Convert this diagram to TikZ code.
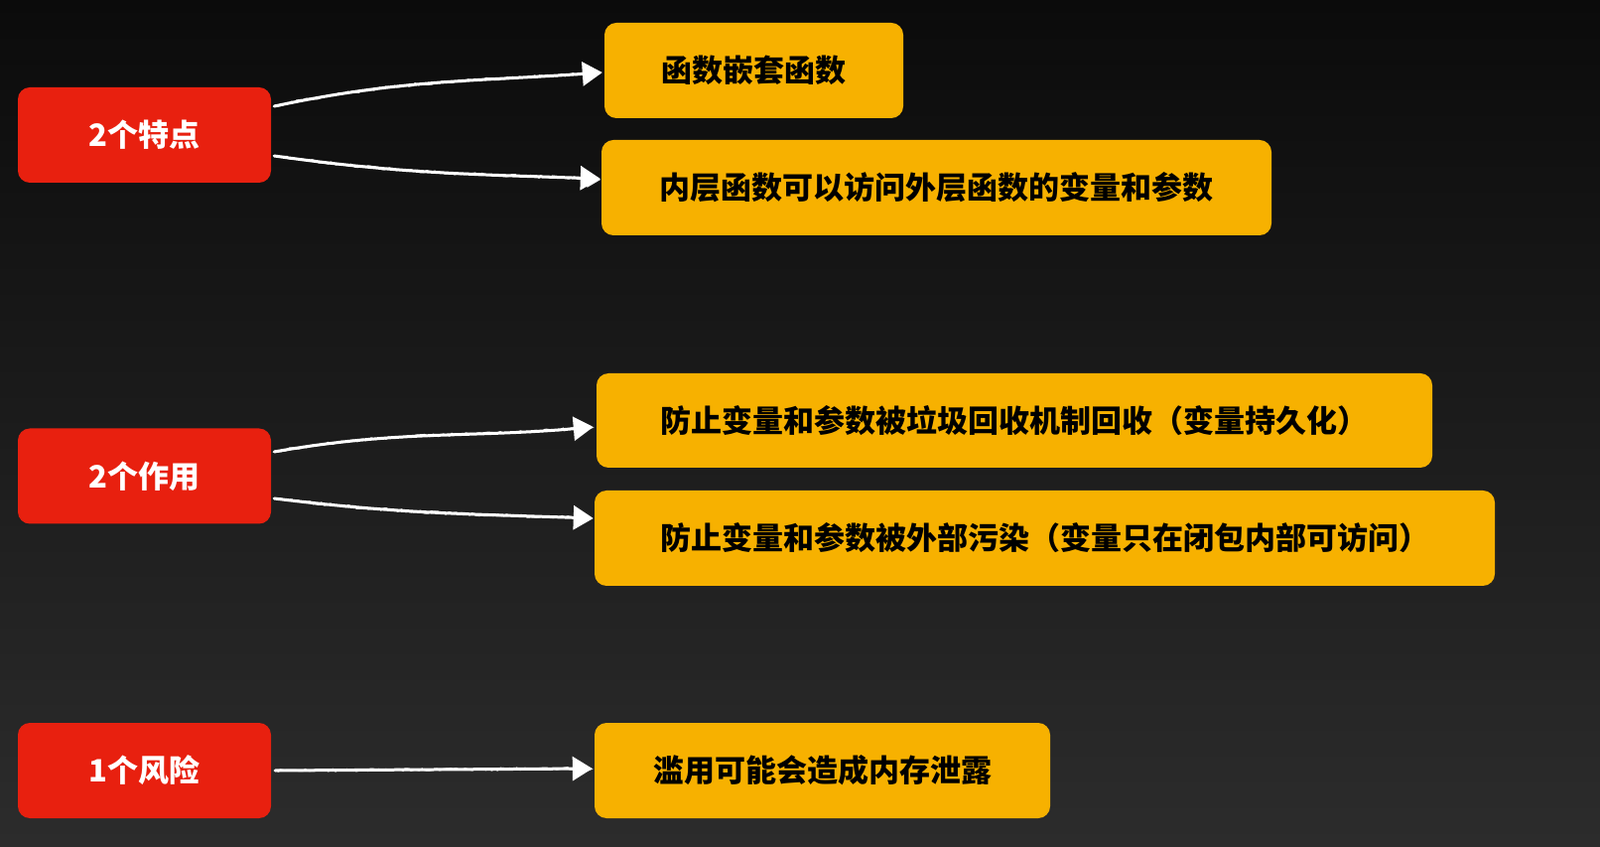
\documentclass[tikz,border=0pt]{standalone}
\usepackage{fontspec}
\newfontfamily\cjk{Noto Sans CJK SC}
\usetikzlibrary{arrows.meta,decorations.pathmorphing}
\definecolor{bgtop}{HTML}{0B0B0B}
\definecolor{bgbot}{HTML}{2C2C2C}
\definecolor{redbox}{HTML}{E8200F}
\definecolor{orbox}{HTML}{F7B100}
\tikzset{
  catbox/.style={fill=redbox, rounded corners=12pt, minimum width=255pt, minimum height=96pt,
    text=white, font=\cjk\bfseries\fontsize{31}{36}\selectfont, inner sep=0pt},
  itembox/.style={fill=orbox, rounded corners=12pt, minimum height=96pt,
    text=black, font=\cjk\bfseries\fontsize{31}{36}\selectfont, inner sep=0pt},
  sketcharrow/.style={draw=white, line width=3pt, line cap=round,
    -{Triangle[length=20pt,width=24pt,fill=white]},
    preaction={arrows=-, draw=white!85!gray, line width=1.6pt, shorten >=16pt,
      decorate, decoration={random steps, segment length=3pt, amplitude=1.2pt}}}
}
\begin{document}
\begin{tikzpicture}[x=1pt,y=1pt]
\useasboundingbox (0,0) rectangle (1612,852);
\shade[top color=bgtop, bottom color=bgbot] (0,0) rectangle (1612,852);

\node[catbox] (r1) at (145.5,716) {2个特点};
\node[catbox] (r2) at (145.5,372.5) {2个作用};
\node[catbox] (r3) at (145.5,76) {1个风险};

\node[itembox, minimum width=301pt] (o1) at (759.5,781) {函数嵌套函数};
\node[itembox, minimum width=675pt] (o2) at (943.5,663) {内层函数可以访问外层函数的变量和参数};
\node[itembox, minimum width=842pt, minimum height=95pt] (o3) at (1022,428.5) {防止变量和参数被垃圾回收机制回收（变量持久化）};
\node[itembox, minimum width=907pt] (o4) at (1052.5,310) {防止变量和参数被外部污染（变量只在闭包内部可访问）};
\node[itembox, minimum width=459pt] (o5) at (828.5,76) {滥用可能会造成内存泄露};

\draw[sketcharrow] ([xshift=3pt,yshift=29pt]r1.east) to[out=12,in=184] ([xshift=-2pt,yshift=-2pt]o1.west);
\draw[sketcharrow] ([xshift=3pt,yshift=-21pt]r1.east) to[out=-8,in=178] ([xshift=-1pt,yshift=9pt]o2.west);
\draw[sketcharrow] ([xshift=3pt,yshift=24.5pt]r2.east) to[out=10,in=185] ([xshift=-3pt,yshift=-6.5pt]o3.west);
\draw[sketcharrow] ([xshift=3pt,yshift=-22.5pt]r2.east) to[out=-7,in=178] ([xshift=-1pt,yshift=20pt]o4.west);
\draw[sketcharrow] ([xshift=4pt]r3.east) -- ([xshift=-2pt,yshift=2pt]o5.west);
\end{tikzpicture}
\end{document}
